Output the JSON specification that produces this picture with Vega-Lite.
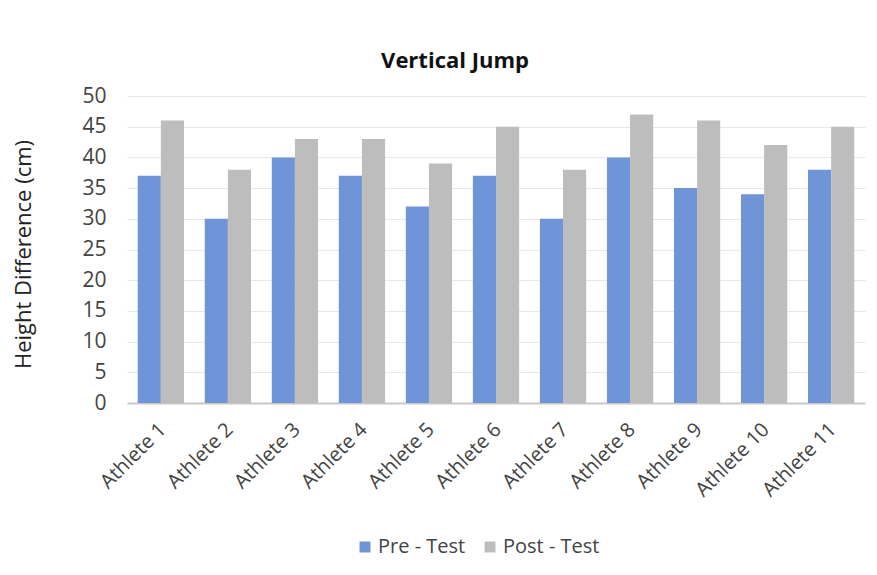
{
  "$schema": "https://vega.github.io/schema/vega-lite/v6.json",
  "width": 738,
  "height": 307,
  "autosize": {"type": "none"},
  "padding": {"left": 127, "top": 96, "right": 12, "bottom": 172},
  "background": "white",
  "title": {
    "text": "Vertical Jump",
    "font": "Open Sans",
    "fontSize": 22,
    "fontWeight": "bold",
    "color": "#111111",
    "anchor": "middle",
    "dx": -41,
    "offset": 12
  },
  "data": {
    "values": [
      {"athlete": "Athlete 1", "test": "Pre - Test", "value": 37},
      {"athlete": "Athlete 1", "test": "Post - Test", "value": 46},
      {"athlete": "Athlete 2", "test": "Pre - Test", "value": 30},
      {"athlete": "Athlete 2", "test": "Post - Test", "value": 38},
      {"athlete": "Athlete 3", "test": "Pre - Test", "value": 40},
      {"athlete": "Athlete 3", "test": "Post - Test", "value": 43},
      {"athlete": "Athlete 4", "test": "Pre - Test", "value": 37},
      {"athlete": "Athlete 4", "test": "Post - Test", "value": 43},
      {"athlete": "Athlete 5", "test": "Pre - Test", "value": 32},
      {"athlete": "Athlete 5", "test": "Post - Test", "value": 39},
      {"athlete": "Athlete 6", "test": "Pre - Test", "value": 37},
      {"athlete": "Athlete 6", "test": "Post - Test", "value": 45},
      {"athlete": "Athlete 7", "test": "Pre - Test", "value": 30},
      {"athlete": "Athlete 7", "test": "Post - Test", "value": 38},
      {"athlete": "Athlete 8", "test": "Pre - Test", "value": 40},
      {"athlete": "Athlete 8", "test": "Post - Test", "value": 47},
      {"athlete": "Athlete 9", "test": "Pre - Test", "value": 35},
      {"athlete": "Athlete 9", "test": "Post - Test", "value": 46},
      {"athlete": "Athlete 10", "test": "Pre - Test", "value": 34},
      {"athlete": "Athlete 10", "test": "Post - Test", "value": 42},
      {"athlete": "Athlete 11", "test": "Pre - Test", "value": 38},
      {"athlete": "Athlete 11", "test": "Post - Test", "value": 45}
    ]
  },
  "mark": {"type": "bar"},
  "encoding": {
    "x": {
      "field": "athlete",
      "type": "nominal",
      "sort": null,
      "scale": {"paddingInner": 0.31, "paddingOuter": 0.16},
      "axis": {
        "title": null,
        "labelAngle": -45,
        "labelFont": "Open Sans",
        "labelFontSize": 20,
        "labelColor": "#444444",
        "ticks": false,
        "domainColor": "#c8c8c8",
        "domainWidth": 2,
        "labelPadding": 16,
        "labelOffset": -5
      }
    },
    "xOffset": {"field": "test", "type": "nominal", "sort": ["Pre - Test", "Post - Test"]},
    "y": {
      "field": "value",
      "type": "quantitative",
      "scale": {"domain": [0, 50]},
      "axis": {
        "title": "Height Difference (cm)",
        "titleFont": "Open Sans",
        "titleFontSize": 22,
        "titleFontWeight": "normal",
        "titleColor": "#222222",
        "titleAngle": -90,
        "titleX": -104,
        "titleY": 158,
        "titleAlign": "center",
        "titleBaseline": "middle",
        "values": [0, 5, 10, 15, 20, 25, 30, 35, 40, 45, 50],
        "labelFont": "Open Sans",
        "labelFontSize": 21,
        "labelColor": "#444444",
        "labelPadding": 21,
        "ticks": false,
        "domain": false,
        "gridColor": "#e8e8e8"
      }
    },
    "color": {
      "field": "test",
      "type": "nominal",
      "sort": ["Pre - Test", "Post - Test"],
      "scale": {"domain": ["Pre - Test", "Post - Test"], "range": ["#6f95d8", "#bdbdbd"]},
      "legend": {
        "title": null,
        "orient": "none",
        "direction": "horizontal",
        "legendX": 228,
        "legendY": 441,
        "symbolType": "square",
        "symbolSize": 120,
        "labelFont": "Open Sans",
        "labelFontSize": 20,
        "labelColor": "#444444",
        "columnPadding": 14,
        "labelOffset": 3
      }
    }
  },
  "config": {"view": {"stroke": null}}
}
